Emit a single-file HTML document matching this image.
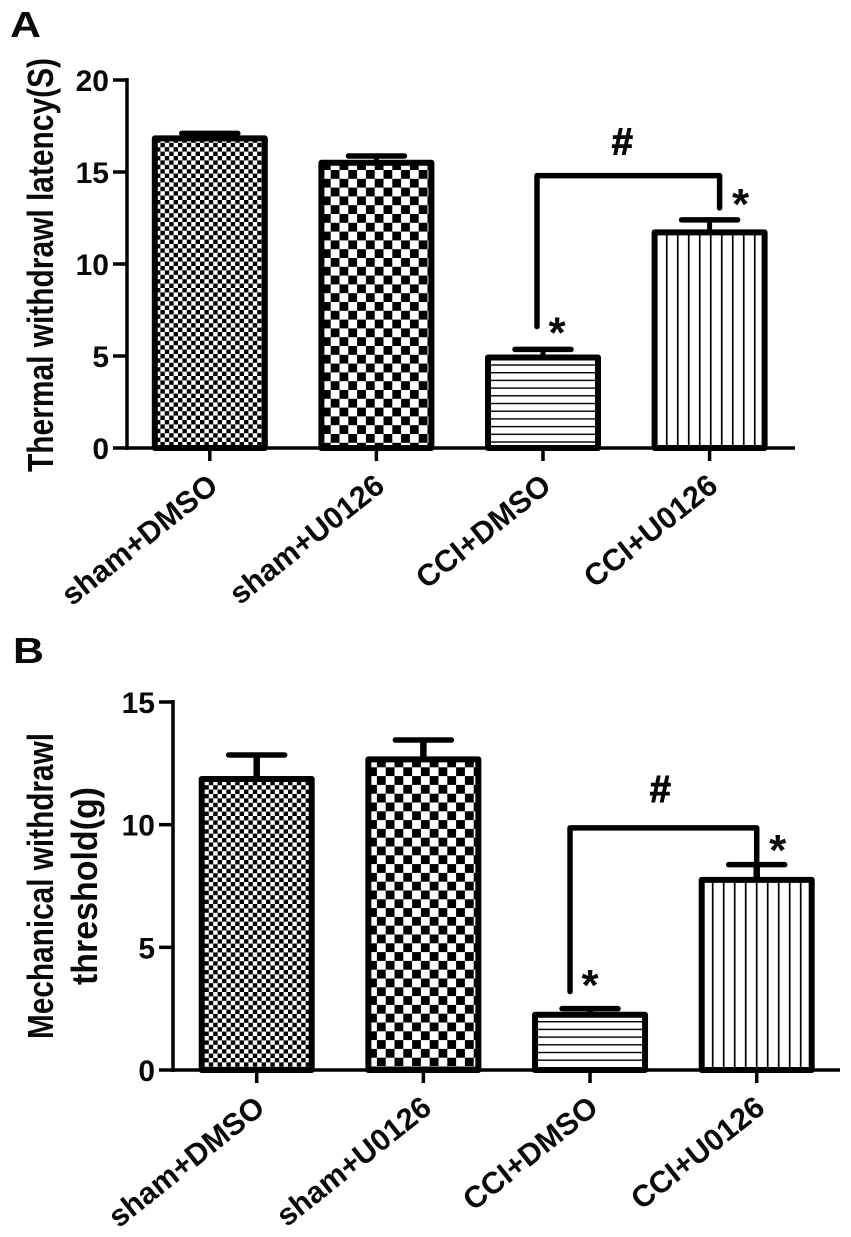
<!DOCTYPE html>
<html lang="en">
<head>
<meta charset="utf-8">
<title>Thermal and mechanical withdrawal bar charts</title>
<style>
html,body{margin:0;padding:0;background:#fff;}
svg{display:block;}
text{font-family:"Liberation Sans",sans-serif;font-weight:bold;fill:#0a0a0a;}
</style>
</head>
<body>
<svg id="figure" width="851" height="1237" viewBox="0 0 851 1237" xmlns="http://www.w3.org/2000/svg">
<defs>
<pattern id="fill-fine-a" patternUnits="userSpaceOnUse" width="8.8" height="8.8" x="2" y="2">
<rect width="8.8" height="8.8" fill="#fff"/><rect width="4.4" height="4.4" fill="#000"/><rect x="4.4" y="4.4" width="4.4" height="4.4" fill="#000"/>
</pattern>
<pattern id="fill-coarse-a" patternUnits="userSpaceOnUse" width="17.6" height="17.6" x="13.9" y="11.6">
<rect width="17.6" height="17.6" fill="#fff"/><rect width="8.8" height="8.8" fill="#000"/><rect x="8.8" y="8.8" width="8.8" height="8.8" fill="#000"/>
</pattern>
<pattern id="fill-horizontal-a" patternUnits="userSpaceOnUse" width="10" height="7.7" y="2.4">
<rect width="10" height="7.7" fill="#fff"/><rect width="10" height="1.4" fill="#000"/>
</pattern>
<pattern id="fill-vertical-a" patternUnits="userSpaceOnUse" width="11" height="10" x="5.9">
<rect width="11" height="10" fill="#fff"/><rect width="1.7" height="10" fill="#000"/>
</pattern>
<pattern id="fill-fine-b" patternUnits="userSpaceOnUse" width="8.8" height="8.8" x="2" y="2">
<rect width="8.8" height="8.8" fill="#fff"/><rect width="4.4" height="4.4" fill="#000"/><rect x="4.4" y="4.4" width="4.4" height="4.4" fill="#000"/>
</pattern>
<pattern id="fill-coarse-b" patternUnits="userSpaceOnUse" width="17.6" height="17.6" x="16.1" y="10.5">
<rect width="17.6" height="17.6" fill="#fff"/><rect width="8.8" height="8.8" fill="#000"/><rect x="8.8" y="8.8" width="8.8" height="8.8" fill="#000"/>
</pattern>
<pattern id="fill-horizontal-b" patternUnits="userSpaceOnUse" width="10" height="7.7" y="4.6">
<rect width="10" height="7.7" fill="#fff"/><rect width="10" height="1.4" fill="#000"/>
</pattern>
<pattern id="fill-vertical-b" patternUnits="userSpaceOnUse" width="11" height="10" x="7.85">
<rect width="11" height="10" fill="#fff"/><rect width="1.7" height="10" fill="#000"/>
</pattern>
</defs>
<text x="10" y="37" font-size="36" textLength="31" lengthAdjust="spacingAndGlyphs">A</text>
<text x="13" y="663" font-size="36" textLength="31" lengthAdjust="spacingAndGlyphs">B</text>
<text transform="translate(53,472) rotate(-90)" font-size="36" textLength="414" lengthAdjust="spacingAndGlyphs">Thermal withdrawl latency(S)</text>
<text transform="translate(53,1039) rotate(-90)" font-size="36" textLength="306" lengthAdjust="spacingAndGlyphs">Mechanical withdrawl</text>
<text transform="translate(97,985) rotate(-90)" font-size="36" textLength="198" lengthAdjust="spacingAndGlyphs">threshold(g)</text>
<g id="chart-a"></g>
<g id="chart-b"></g>
</svg>
<script>
const categories = ["sham+DMSO", "sham+U0126", "CCI+DMSO", "CCI+U0126"];
const fills = ["fill-fine", "fill-coarse", "fill-horizontal", "fill-vertical"];
const thermalValues = [16.83, 15.5, 4.92, 11.72];
const thermalErrors = [0.27, 0.37, 0.44, 0.68];
const thermalTicks = [0, 5, 10, 15, 20];
const thermalBracket = [6.6, 14.8, 13.05];
const mechanicalValues = [11.86, 12.66, 2.25, 7.75];
const mechanicalErrors = [0.98, 0.79, 0.25, 0.62];
const mechanicalTicks = [0, 5, 10, 15];
const mechanicalBracket = [3.2, 9.87, 8.4];

const NS = "http://www.w3.org/2000/svg";
function add(parent, tag, attrs, content) {
  const el = document.createElementNS(NS, tag);
  for (const key in attrs) el.setAttribute(key, attrs[key]);
  if (content !== undefined) el.textContent = content;
  parent.appendChild(el);
  return el;
}
function drawChart(root, cfg) {
  const y = v => cfg.y0 - (v / cfg.max) * (cfg.y0 - cfg.yTop);
  const x = i => cfg.x0 + i * cfg.step;
  const ink = "#000";

  cfg.values.forEach((value, i) => {
    const barGroup = add(root, "g", {});
    
    
    const top = y(value + cfg.errors[i]);
    add(barGroup, "line", {x1: x(i), x2: x(i), y1: top, y2: y(value), stroke: ink, "stroke-width": cfg.stem});
    add(barGroup, "line", {x1: x(i) - 28, x2: x(i) + 28, y1: top, y2: top, stroke: ink, "stroke-width": 5.5, "stroke-linecap": "round"});
    add(barGroup, "rect", {x: x(i) - 55, y: y(value), width: 110, height: cfg.y0 - y(value), fill: "url(#" + fills[i] + cfg.suffix + ")", stroke: ink, "stroke-width": 6, "stroke-linejoin": "round"});
  });

  const axes = add(root, "g", {stroke: ink, fill: "none"});
  
  
  add(axes, "line", {x1: cfg.axisX, x2: cfg.axisX, y1: y(cfg.max) - 2, y2: cfg.y0 + 2, "stroke-width": 3.5});
  add(axes, "line", {x1: cfg.axisX, x2: cfg.axisEnd, y1: cfg.y0, y2: cfg.y0, "stroke-width": 3.5});

  cfg.ticks.forEach(tick => {
    add(axes, "line", {x1: cfg.axisX - 14, x2: cfg.axisX, y1: y(tick), y2: y(tick), "stroke-width": 3.5});
    const tickLabel = add(root, "text", {x: cfg.axisX - 18, y: y(tick) + 11, "font-size": 30, "text-anchor": "end"}, tick);
    
    
  });

  categories.forEach((name, i) => {
    add(axes, "line", {x1: x(i), x2: x(i), y1: cfg.y0, y2: cfg.y0 + 13, "stroke-width": 3.5});
    const label = add(root, "text", {
      transform: "translate(" + (x(i) + 10) + "," + (cfg.y0 + 41) + ") rotate(-38.5)",
      "font-size": 30.5, "text-anchor": "end"
    }, name);
    
    
  });

  const [leftEnd, barTop, rightEnd] = cfg.bracket;
  const xl = x(2) + cfg.leftShift, xr = x(3) + cfg.rightShift;
  const bracket = add(root, "path", {
    d: "M" + xl + " " + y(leftEnd) + "V" + y(barTop) + "H" + xr + "V" + y(rightEnd),
    fill: "none", stroke: ink, "stroke-width": 5.5, "stroke-linecap": "round", "stroke-linejoin": "round"
  });
  
  

  const hash = add(root, "text", {x: (xl + xr) / 2 + cfg.hashDx, y: y(barTop) + cfg.hashDy, "font-size": 38, "text-anchor": "middle", stroke: "#000", "stroke-width": 1}, "#");
  
  

  const star1 = add(root, "text", {x: xl + 20, y: y(leftEnd) + cfg.star1Dy, "font-size": 44, "text-anchor": "middle"}, "*");
  
  

  const star2 = add(root, "text", {x: xr + cfg.star2Dx, y: y(rightEnd) + cfg.star2Dy, "font-size": 44, "text-anchor": "middle"}, "*");
  
  
}
drawChart(document.getElementById("chart-a"), {
  values: thermalValues, errors: thermalErrors, ticks: thermalTicks, bracket: thermalBracket,
  max: 20, y0: 448, yTop: 80, x0: 209.8, step: 166.6, axisX: 127, axisEnd: 795, suffix: "-a", stem: 5,
  leftShift: -6, rightShift: 10, hashDx: -6, hashDy: -21, star1Dy: 21, star2Dx: 21, star2Dy: 11
});
drawChart(document.getElementById("chart-b"), {
  values: mechanicalValues, errors: mechanicalErrors, ticks: mechanicalTicks, bracket: mechanicalBracket,
  max: 15, y0: 1070, yTop: 702, x0: 256.7, step: 166.67, axisX: 173, axisEnd: 840, suffix: "-b", stem: 6.5,
  leftShift: -20, rightShift: 0, hashDx: -3, hashDy: -26, star1Dy: 8.5, star2Dx: 21, star2Dy: 1
});
</script>
</body>
</html>
